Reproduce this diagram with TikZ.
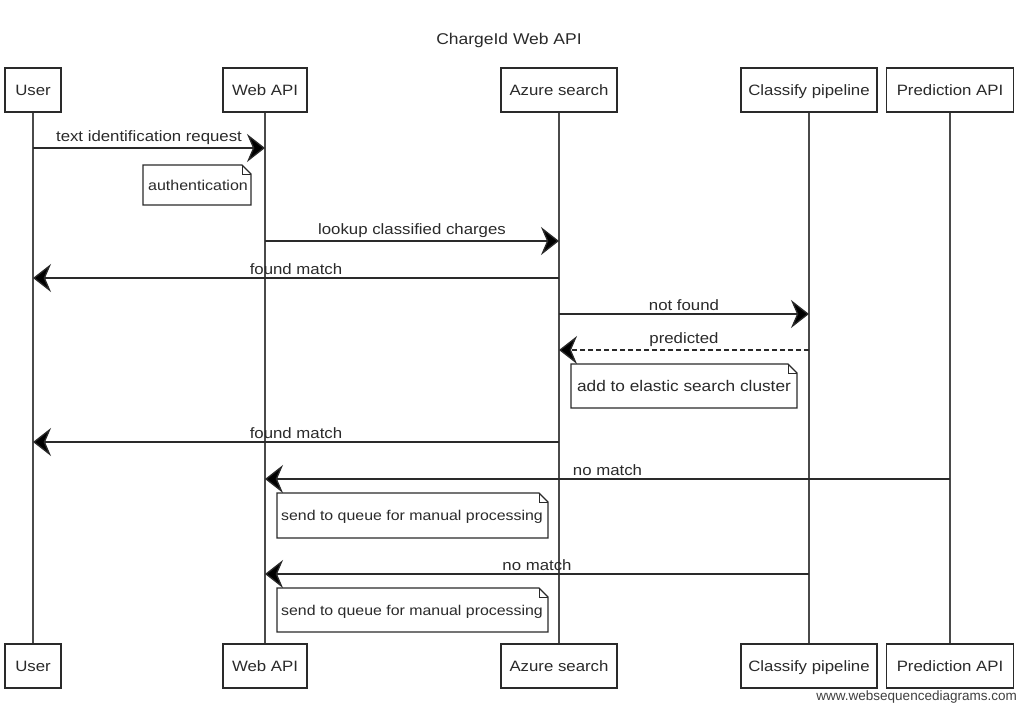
\documentclass[tikz,border=0pt]{standalone}
\usepackage{fontspec}
\setmainfont{Liberation Sans}[FakeStretch=1.12]
\newfontfamily\wmfont{Liberation Sans}
\usetikzlibrary{arrows.meta}
\definecolor{ink}{HTML}{2A2A2A}
\tikzset{
  actor/.style={draw=ink, line width=1.3pt, fill=white, minimum height=44pt, inner sep=0pt, font=\fontsize{15}{17}\selectfont, text=ink, text height=10.5pt, text depth=0pt},
  life/.style={draw=ink!85, line width=1.2pt},
  msg/.style={draw=ink, line width=1.3pt, -{Stealth[length=18pt,width=28pt,inset=6pt,fill=black]}},
  reply/.style={msg, dash pattern=on 5pt off 3pt},
  lbl/.style={font=\fontsize{15}{17}\selectfont, text=ink, inner sep=1pt, anchor=south, yshift=1.5pt},
  notetext/.style={text=ink, inner sep=0pt, text height=10.5pt, text depth=0pt},
  notebox/.style={draw=ink, line width=1.3pt, fill=white}
}
\newcommand{\mynote}[5]{% name, x1, y1, x2, y2
  \path[notebox] (#2,#3) -- (#4-9,#3) -- (#4,#3+9) -- (#4,#5) -- (#2,#5) -- cycle;
  \draw[ink, line width=1pt] (#4-9,#3) -- (#4-9,#3+9) -- (#4,#3+9);
}
\begin{document}
\begin{tikzpicture}[x=1pt, y=-1pt]
\useasboundingbox (0,0) rectangle (1024,717);
\fill[white] (0,0) rectangle (1024,717);

% title
\node[font=\fontsize{15.6}{18}\selectfont, text=ink] (title) at (509,40) {ChargeId Web API};

% top actors
\node[actor, minimum width=56pt]  (uT) at (33,90)  {User};
\node[actor, minimum width=84pt]  (wT) at (265,90) {Web API};
\node[actor, minimum width=116pt] (aT) at (559,90) {Azure search};
\node[actor, minimum width=136pt] (cT) at (809,90) {Classify pipeline};
\node[actor, minimum width=127pt] (pT) at (950,90) {Prediction API};
% bottom actors
\node[actor, minimum width=56pt]  (uB) at (33,666)  {User};
\node[actor, minimum width=84pt]  (wB) at (265,666) {Web API};
\node[actor, minimum width=116pt] (aB) at (559,666) {Azure search};
\node[actor, minimum width=136pt] (cB) at (809,666) {Classify pipeline};
\node[actor, minimum width=127pt] (pB) at (950,666) {Prediction API};

% lifelines
\draw[life] (uT.south) -- (uB.north);
\draw[life] (wT.south) -- (wB.north);
\draw[life] (aT.south) -- (aB.north);
\draw[life] (cT.south) -- (cB.north);
\draw[life] (pT.south) -- (pB.north);

% message anchor points
\coordinate (m1a) at (33,148);  \coordinate (m1b) at (265,148);
\coordinate (m2a) at (265,241); \coordinate (m2b) at (559,241);
\coordinate (m3a) at (559,278); \coordinate (m3b) at (33,278);
\coordinate (m4a) at (559,314); \coordinate (m4b) at (809,314);
\coordinate (m5a) at (809,350); \coordinate (m5b) at (559,350);
\coordinate (m6a) at (559,442); \coordinate (m6b) at (33,442);
\coordinate (m7a) at (950,479); \coordinate (m7b) at (265,479);
\coordinate (m8a) at (809,574); \coordinate (m8b) at (265,574);

% messages
\draw[msg] (m1a) -- node[lbl] {text identification request} (m1b);
\draw[msg] (m2a) -- node[lbl] {lookup classified charges} (m2b);
\draw[msg] (m3a) -- node[lbl] {found match} (m3b);
\draw[msg] (m4a) -- node[lbl] {not found} (m4b);
\draw[reply] (m5a) -- node[lbl] {predicted} (m5b);
\draw[msg] (m6a) -- node[lbl] {found match} (m6b);
\draw[msg] (m7a) -- node[lbl] {no match} (m7b);
\draw[msg] (m8a) -- node[lbl] {no match} (m8b);

% notes
\mynote{n1}{143}{165}{251}{205}
\node[notetext, font=\fontsize{14.3}{16}\selectfont] (n1) at (198,185) {authentication};
\mynote{n2}{571}{364}{797}{408}
\node[notetext, font=\fontsize{15.4}{17}\selectfont] (n2) at (684,386) {add to elastic search cluster};
\mynote{n3}{277}{493}{548}{538}
\node[notetext, font=\fontsize{14.2}{16}\selectfont] (n3) at (412,515) {send to queue for manual processing};
\mynote{n4}{277}{588}{548}{632}
\node[notetext, font=\fontsize{14.2}{16}\selectfont] (n4) at (412,610) {send to queue for manual processing};

% watermark
\node[font=\wmfont\fontsize{13.5}{15}\selectfont, text=ink!90, anchor=east, inner sep=0pt] (wm) at (1017,697) {www.websequencediagrams.com};
\end{tikzpicture}
\end{document}
